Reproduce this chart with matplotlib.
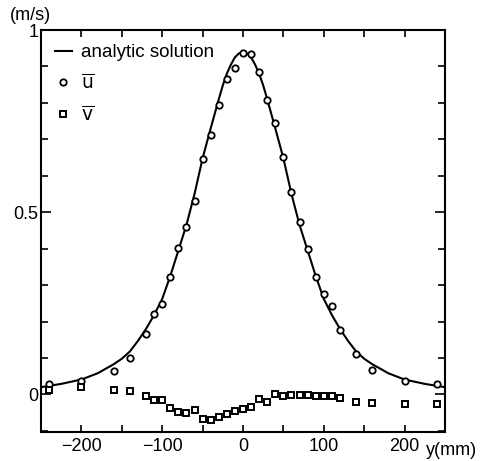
import numpy as np
import matplotlib
matplotlib.use('Agg')
import matplotlib.pyplot as plt
from matplotlib.ticker import MultipleLocator

plt.rcParams['font.family'] = ['Liberation Sans', 'DejaVu Sans']

# analytic solution
curve_y = [-250, -225, -200, -180, -160, -150, -140, -130, -120, -110, -100, -90, -80, -70, -60, -50,
           -40, -30, -25, -20, -15, -10, -5, 0, 5, 10, 15, 20, 25, 30, 40, 50, 60, 70, 80, 90, 100,
           110, 120, 130, 140, 150, 160, 180, 200, 225, 250]
curve_u = [0.020, 0.029, 0.041, 0.058, 0.083, 0.098, 0.118, 0.147, 0.180, 0.218, 0.262, 0.325, 0.395,
           0.465, 0.550, 0.648, 0.730, 0.810, 0.848, 0.880, 0.905, 0.925, 0.936, 0.940, 0.936, 0.925,
           0.905, 0.880, 0.848, 0.810, 0.730, 0.648, 0.550, 0.465, 0.395, 0.325, 0.262, 0.218, 0.180,
           0.147, 0.118, 0.098, 0.083, 0.058, 0.041, 0.029, 0.020]

# measured u (circles)
u_y = [-240, -200, -160, -140, -120, -110, -100, -90, -80, -70, -60, -50, -40, -30, -20, -10,
       0, 10, 20, 30, 40, 50, 60, 70, 80, 90, 100, 110, 120, 140, 160, 200, 240]
u_val = [0.028, 0.038, 0.063, 0.100, 0.166, 0.220, 0.248, 0.321, 0.403, 0.459, 0.530, 0.645,
         0.713, 0.794, 0.865, 0.896, 0.936, 0.935, 0.885, 0.808, 0.744, 0.652, 0.556, 0.472,
         0.400, 0.321, 0.275, 0.243, 0.177, 0.112, 0.068, 0.037, 0.029]

# measured v (squares)
v_y = [-240, -200, -160, -140, -120, -110, -100, -90, -80, -70, -60, -50, -40, -30, -20, -10,
       0, 10, 20, 30, 40, 50, 60, 70, 80, 90, 100, 110, 120, 140, 160, 200, 240]
v_val = [0.013, 0.020, 0.012, 0.010, -0.004, -0.014, -0.016, -0.038, -0.047, -0.050, -0.044,
         -0.068, -0.069, -0.062, -0.053, -0.046, -0.040, -0.035, -0.013, -0.022, 0.001, -0.005,
         -0.001, -0.002, -0.002, -0.004, -0.003, -0.003, -0.009, -0.020, -0.024, -0.025, -0.025]

fig = plt.figure(figsize=(4.89, 4.61), dpi=100)
ax = fig.add_axes([41/489, 1-432/461, 404/489, 402/461])

ax.plot(curve_y, curve_u, color='black', lw=1.5, label='analytic solution')
ax.plot(u_y, u_val, 'o', mfc='white', mec='black', ms=4.6, mew=1.3, label=r'$\overline{\mathrm{u}}$')
ax.plot(v_y, v_val, 's', mfc='white', mec='black', ms=4.8, mew=1.4, label=r'$\overline{\mathrm{v}}$')

ax.set_xlim(-250, 250)
ax.set_ylim(-0.103, 1.0)
ax.xaxis.set_minor_locator(MultipleLocator(50))
ax.set_yticks([0, 0.5, 1])
ax.set_yticklabels(['0', '0.5', '1'])
ax.yaxis.set_minor_locator(MultipleLocator(0.1))
ax.set_xticks([-200, -100, 0, 100, 200])
ax.set_xticklabels(['\u2212200', '\u2212100', '0', '100', '200'])
ax.tick_params(which='both', direction='in', top=True, right=True, labelsize=13, width=1.2)
ax.tick_params(axis='y', which='major', length=7, pad=2)
ax.tick_params(axis='y', which='minor', length=5)
ax.tick_params(axis='x', which='both', length=5, pad=4)
for s in ax.spines.values():
    s.set_linewidth(1.5)

leg = ax.legend(loc='upper left', frameon=False, fontsize=13.5, handlelength=0.9,
                handletextpad=0.5, labelspacing=0.68, borderaxespad=0.3, borderpad=0.45)

fig.text(10/489, 1-15/461, '(m/s)', fontsize=13, va='center', ha='left')
fig.text(426/489, 1-450/461, 'y(mm)', fontsize=13, va='center', ha='left')

plt.savefig('out.png', dpi=100)
